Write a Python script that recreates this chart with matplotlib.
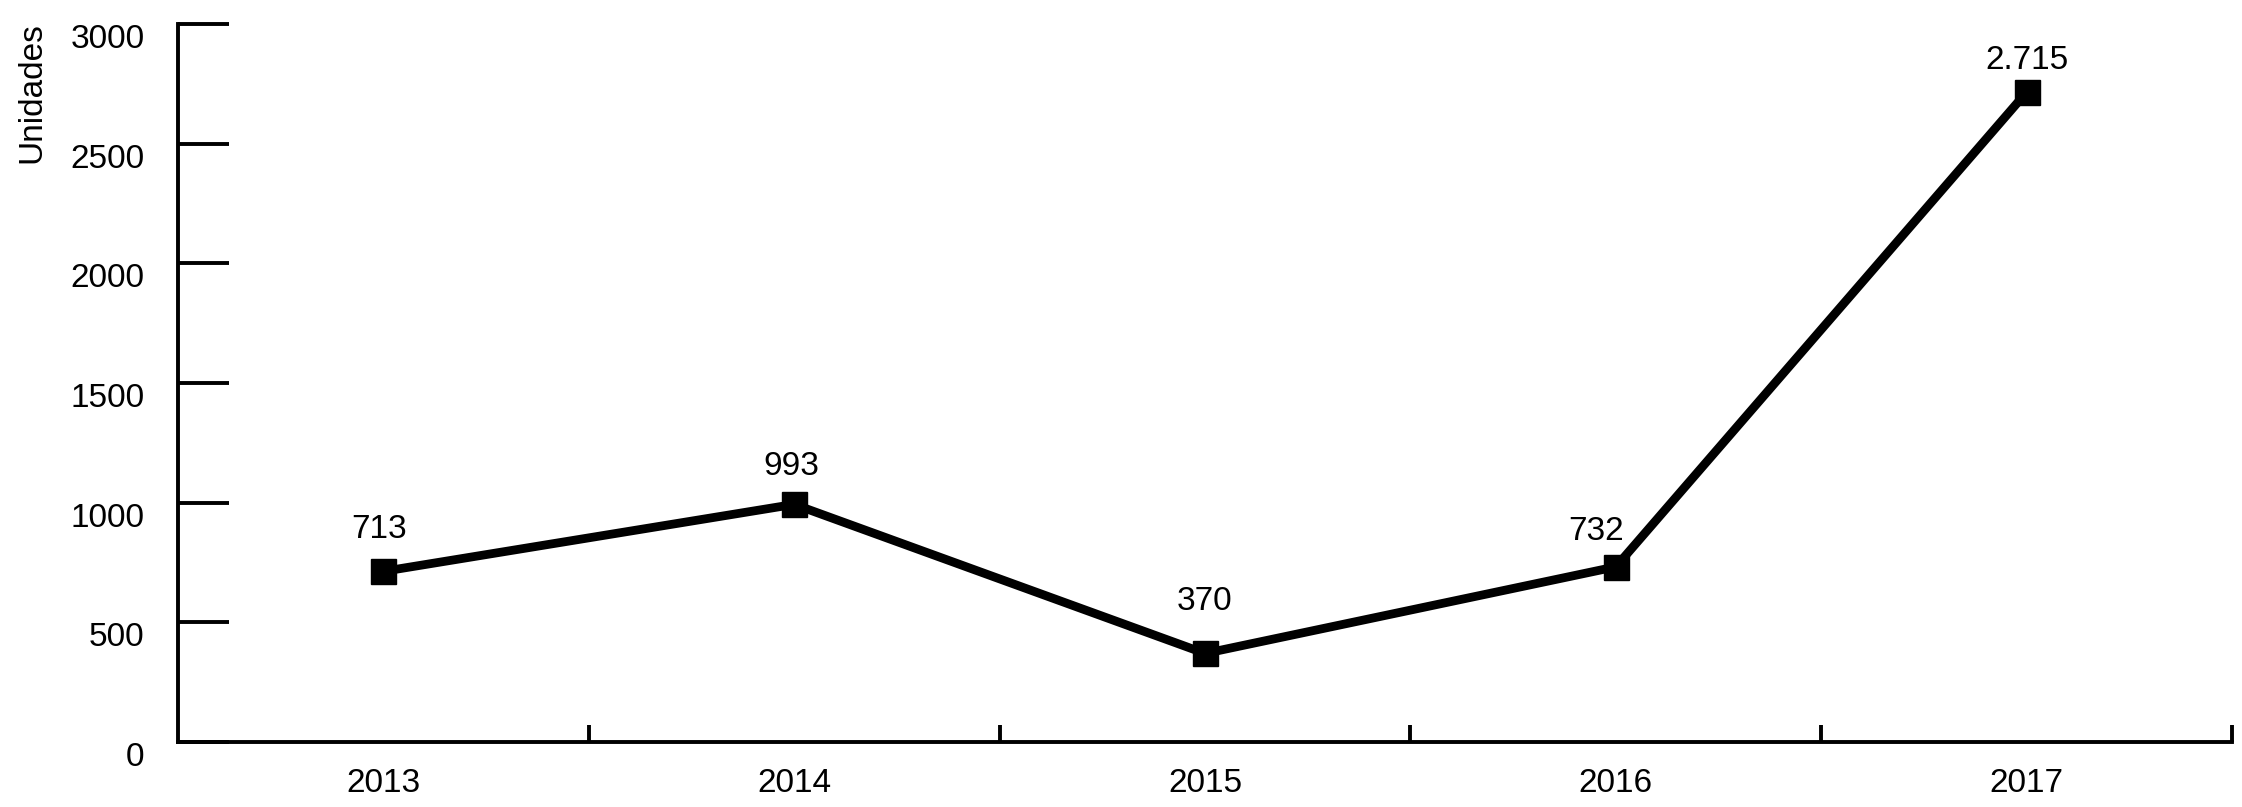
import matplotlib.pyplot as plt
import numpy as np

plt.rcParams['font.family'] = ['Liberation Sans', 'DejaVu Sans']

years = ['2013', '2014', '2015', '2016', '2017']
units = [713, 993, 370, 732, 2715]
y_ticks = [0, 500, 1000, 1500, 2000, 2500, 3000]

# offsets (points) between each marker and its value label
label_dx = [-3, -2, 0, -14, 0]
label_dy = [19, 16, 26, 14, 12]

fig = plt.figure(figsize=(22.42, 8.07), dpi=100)
ax = fig.add_axes([178 / 2242, 1 - 742 / 807, (2232 - 178) / 2242, (742 - 24) / 807])

x = np.arange(len(years))
ax.plot(x, units, color='black', linewidth=6.3, marker='s', markersize=18,
        solid_joinstyle='miter')

# labels with Spanish thousands separator
for xi, v, dx, dy in zip(x, units, label_dx, label_dy):
    ax.annotate(f"{v:,}".replace(",", "."), (xi, v), xytext=(dx, dy),
                textcoords='offset points', ha='center', va='bottom', fontsize=24)

ax.set_xlim(-0.5, len(years) - 0.5)
ax.set_ylim(0, 3000)

ax.spines['top'].set_visible(False)
ax.spines['right'].set_visible(False)
for s in ('left', 'bottom'):
    ax.spines[s].set_linewidth(2.8)

ax.set_yticks(y_ticks)
ax.set_yticklabels([str(t) for t in y_ticks])
ax.tick_params(axis='y', direction='in', length=37, width=2.8, pad=24, labelsize=24)
for lab in ax.get_yticklabels():
    lab.set_va('top')

ax.set_xticks(x)
ax.set_xticklabels(years)
ax.set_xticks(x + 0.5, minor=True)
ax.tick_params(axis='x', which='major', length=0, pad=19, labelsize=24)
ax.tick_params(axis='x', which='minor', direction='in', length=12, width=2.8)

fig.text(32 / 2242, 1 - 22 / 807, 'Unidades', rotation=90, ha='center', va='top',
         fontsize=24)

fig.savefig('out.png', dpi=100)
